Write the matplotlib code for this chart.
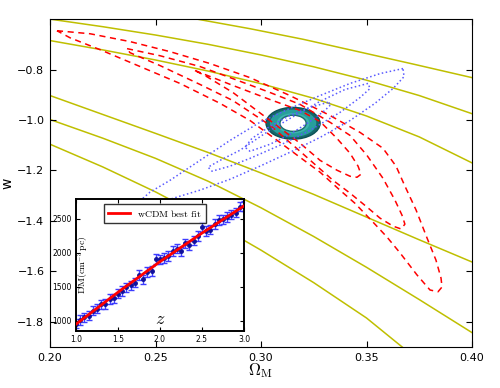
import numpy as np
import matplotlib
matplotlib.use('Agg')
import matplotlib.pyplot as plt
from matplotlib.patches import Ellipse

plt.rcParams['mathtext.fontset'] = 'cm'

# yellow curves (Omega_M, w)
yel1_om = [0.2697, 0.2948, 0.3200, 0.3455, 0.3720, 0.4000]
yel1_w = [-0.600, -0.638, -0.680, -0.728, -0.778, -0.832]
yel2_om = [0.200, 0.225, 0.250, 0.275, 0.300, 0.325, 0.350, 0.375, 0.400]
yel2_w = [-0.600, -0.630, -0.663, -0.700, -0.742, -0.789, -0.842, -0.903, -0.975]
yel3_om = [0.200, 0.225, 0.250, 0.275, 0.300, 0.325, 0.350, 0.375, 0.400]
yel3_w = [-0.685, -0.722, -0.762, -0.806, -0.856, -0.914, -0.984, -1.067, -1.170]
yel4_om = [0.200, 0.225, 0.250, 0.275, 0.300, 0.325, 0.350, 0.375, 0.400]
yel4_w = [-0.903, -0.978, -1.053, -1.129, -1.210, -1.295, -1.385, -1.475, -1.563]
yel5_om = [0.200, 0.225, 0.250, 0.275, 0.300, 0.325, 0.350, 0.375, 0.400]
yel5_w = [-0.998, -1.072, -1.152, -1.243, -1.348, -1.462, -1.584, -1.712, -1.843]
yel6_om = [0.200, 0.225, 0.250, 0.275, 0.300, 0.325, 0.350, 0.375]
yel6_w = [-1.096, -1.186, -1.285, -1.395, -1.516, -1.645, -1.785, -1.955]

# red dashed contours
red_out_om = [0.2033, 0.2190, 0.2379, 0.2569, 0.2758, 0.2948, 0.3137, 0.3327, 0.3469,
              0.3578, 0.3640, 0.3682, 0.3735, 0.3787, 0.3829, 0.3853, 0.3858, 0.3839,
              0.3801, 0.3739, 0.3659, 0.3597, 0.3531, 0.3445, 0.3374, 0.3280, 0.3185,
              0.3090, 0.2948, 0.2806, 0.2616, 0.2427, 0.2237, 0.2095, 0.2033]
red_out_w = [-0.646, -0.658, -0.689, -0.729, -0.776, -0.832, -0.903, -0.982, -1.049,
             -1.112, -1.183, -1.262, -1.357, -1.468, -1.555, -1.626, -1.662, -1.681,
             -1.674, -1.614, -1.527, -1.464, -1.405, -1.330, -1.278, -1.207, -1.148,
             -1.089, -1.002, -0.934, -0.855, -0.788, -0.721, -0.674, -0.646]
red_mid_om = [0.2365, 0.2521, 0.2711, 0.2867, 0.3043, 0.3185, 0.3327, 0.3422, 0.3502,
              0.3578, 0.3635, 0.3668, 0.3682, 0.3664, 0.3626, 0.3564, 0.3502, 0.3422,
              0.3341, 0.3265, 0.3185, 0.3043, 0.2867, 0.2711, 0.2521, 0.2379, 0.2365]
red_mid_w = [-0.717, -0.745, -0.788, -0.836, -0.891, -0.938, -1.009, -1.061, -1.140,
             -1.231, -1.318, -1.377, -1.413, -1.432, -1.421, -1.389, -1.345, -1.290,
             -1.239, -1.183, -1.124, -1.021, -0.923, -0.859, -0.784, -0.733, -0.717]
red_in_om = [0.2687, 0.2867, 0.3043, 0.3185, 0.3280, 0.3360, 0.3422, 0.3460, 0.3474,
             0.3455, 0.3422, 0.3360, 0.3280, 0.3185, 0.3043, 0.2867, 0.2735, 0.2687]
red_in_w = [-0.804, -0.863, -0.919, -0.962, -1.006, -1.073, -1.132, -1.183, -1.215,
            -1.227, -1.223, -1.199, -1.160, -1.092, -1.002, -0.891, -0.824, -0.804]

# blue dotted contours
blue_out_om = [0.3673, 0.3564, 0.3422, 0.3280, 0.3137, 0.2995, 0.2853, 0.2711, 0.2569,
               0.2474, 0.2441, 0.2460, 0.2569, 0.2711, 0.2853, 0.2995, 0.3137, 0.3280,
               0.3422, 0.3540, 0.3626, 0.3678, 0.3673]
blue_out_w = [-0.796, -0.816, -0.855, -0.903, -0.954, -1.009, -1.081, -1.160, -1.239,
              -1.286, -1.310, -1.330, -1.314, -1.278, -1.235, -1.183, -1.128, -1.069,
              -1.002, -0.934, -0.875, -0.828, -0.796]
blue_mid_om = [0.3507, 0.3398, 0.3280, 0.3137, 0.3019, 0.2900, 0.2806, 0.2749, 0.2768,
               0.2853, 0.2948, 0.3090, 0.3232, 0.3374, 0.3469, 0.3517, 0.3507]
blue_mid_w = [-0.855, -0.879, -0.926, -0.994, -1.053, -1.120, -1.160, -1.187, -1.203,
              -1.183, -1.152, -1.100, -1.041, -0.970, -0.911, -0.875, -0.855]
blue_in_om = [0.3318, 0.3232, 0.3137, 0.3043, 0.2957, 0.2924, 0.2948, 0.3043, 0.3137,
              0.3232, 0.3303, 0.3332, 0.3318]
blue_in_w = [-0.930, -0.950, -0.982, -1.025, -1.073, -1.108, -1.124, -1.096, -1.057,
             -1.006, -0.962, -0.938, -0.930]

# combined constraint ring
ring_center = (0.3152, -1.013)
ring_outer = (0.0256, 0.126)
ring_hole = (0.0124, 0.064)

# inset: DM(z)
z_pts = [1.00, 1.05, 1.10, 1.15, 1.20, 1.25, 1.30, 1.35, 1.40, 1.45, 1.50, 1.55, 1.60, 1.65,
         1.70, 1.75, 1.80, 1.85, 1.90, 1.95, 2.00, 2.05, 2.10, 2.15, 2.20, 2.25, 2.30, 2.35,
         2.40, 2.45, 2.50, 2.55, 2.60, 2.65, 2.70, 2.75, 2.80, 2.85, 2.90, 2.95, 3.00]
dm_pts = [960, 1010, 1050, 1075, 1150, 1180, 1240, 1250, 1320, 1330, 1400, 1440, 1490, 1520,
          1560, 1670, 1610, 1720, 1730, 1910, 1905, 1920, 1950, 2030, 2060, 2020, 2140, 2110,
          2180, 2250, 2380, 2320, 2340, 2420, 2480, 2490, 2530, 2560, 2590, 2680, 2690]
dm_err = 70
z_fit = [1.0, 1.5, 2.0, 2.5, 3.0]
dm_fit = [950, 1420, 1870, 2290, 2690]

fig = plt.figure(figsize=(5, 3.88), dpi=100)
ax = fig.add_axes([0.1, 0.1057, 0.844, 0.845])

for om, w in [(yel1_om, yel1_w), (yel2_om, yel2_w), (yel3_om, yel3_w),
              (yel4_om, yel4_w), (yel5_om, yel5_w), (yel6_om, yel6_w)]:
    ax.plot(om, w, color=(0.75, 0.75, 0.0), lw=1.1, zorder=1)

ax.add_patch(Ellipse(ring_center, ring_outer[0], ring_outer[1], fc='#16676a', ec='#0c5255', lw=1, zorder=2))
ax.add_patch(Ellipse(ring_center, ring_outer[0] * 0.86, ring_outer[1] * 0.86, fc='#279e9c', ec='none', zorder=2))
ax.add_patch(Ellipse(ring_center, ring_hole[0] * 1.25, ring_hole[1] * 1.25, fc='#3db4ae', ec='none', zorder=2))
ax.add_patch(Ellipse(ring_center, ring_hole[0], ring_hole[1], fc='white', ec='#1b6d6d', lw=1, zorder=2))

for om, w in [(red_out_om, red_out_w), (red_mid_om, red_mid_w), (red_in_om, red_in_w)]:
    ax.plot(om, w, color='r', ls='--', lw=1.1, dashes=(4, 3), zorder=3)
for om, w in [(blue_out_om, blue_out_w), (blue_mid_om, blue_mid_w), (blue_in_om, blue_in_w)]:
    ax.plot(om, w, color='#5a5aff', ls=':', lw=1.1, zorder=3)

ax.set_xlim(0.2, 0.4)
ax.set_ylim(-1.9, -0.6)
ax.set_xticks([0.20, 0.25, 0.30, 0.35, 0.40])
ax.set_xticklabels(['0.20', '0.25', '0.30', '0.35', '0.40'])
ax.set_yticks([-1.8, -1.6, -1.4, -1.2, -1.0, -0.8])
ax.tick_params(direction='in', top=True, right=True, labelsize=8, length=4, pad=4)
ax.set_xlabel(r'$\Omega_{\rm M}$', fontsize=12, labelpad=-1)
ax.set_ylabel('w', fontsize=10)
ax.yaxis.set_label_coords(-0.085, 0.5)

# inset
ins = fig.add_axes([0.152, 0.1469, 0.336, 0.340])
ins.errorbar(z_pts, dm_pts, yerr=dm_err, fmt='o', ms=2.5, color='#10109a',
             ecolor='#3c3cff', elinewidth=1, capsize=2.5, capthick=1, zorder=2)
ins.plot(z_fit, dm_fit, color='r', lw=2, label=r'$\mathrm{wCDM\ best\ fit}$', zorder=3)
ins.set_xlim(1.0, 3.0)
ins.set_ylim(850, 2790)
ins.set_xticks([1.0, 1.5, 2.0, 2.5, 3.0])
ins.set_yticks([1000, 1500, 2000, 2500])
ins.tick_params(direction='in', top=True, right=True, labelsize=5.5, length=3, pad=3)
for s in ins.spines.values():
    s.set_linewidth(1.4)
ins.set_xlabel(r'$z$', fontsize=13)
ins.set_ylabel(r'$\mathrm{DM(cm^{-3}\,pc)}$', fontsize=7)
ins.xaxis.set_label_coords(0.5, 0.16)
ins.yaxis.set_label_coords(0.09, 0.5)
leg = ins.legend(loc='upper center', bbox_to_anchor=(0.47, 1.0), fontsize=7, fancybox=False,
                 handlelength=2.2, borderpad=0.4)
leg.get_frame().set_edgecolor('black')
leg.get_frame().set_linewidth(1.0)

fig.savefig('out.png', dpi=100)
